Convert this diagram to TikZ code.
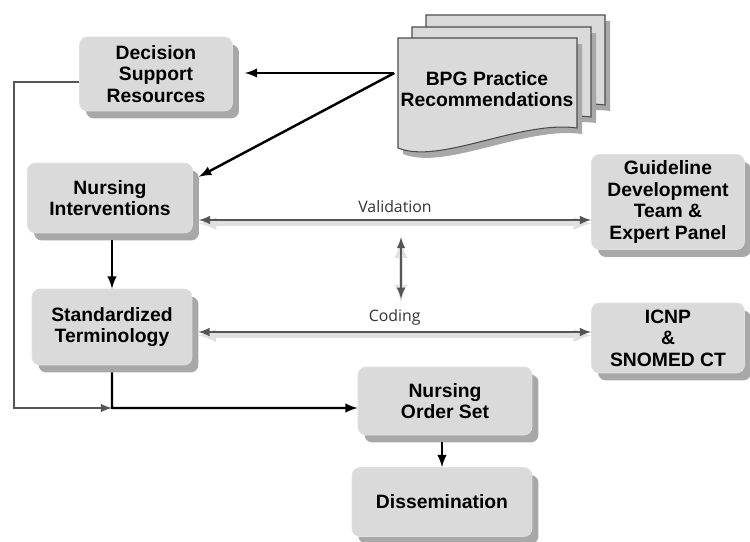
\documentclass[tikz,border=0pt]{standalone}
\usepackage{fontspec}
\setmainfont{Liberation Sans}
\newfontfamily\labelfont{Open Sans}
\usetikzlibrary{shadows}

\definecolor{boxgray}{HTML}{DADADA}
\definecolor{shadegray}{HTML}{A8A8A8}
\definecolor{linegray}{HTML}{555555}

\tikzset{
  box/.style={rounded corners=0.16cm, fill=boxgray, draw=black!12, align=center,
    font=\bfseries\fontsize{11}{12.3}\selectfont,
    drop shadow={shadow xshift=0.13cm, shadow yshift=-0.15cm, fill=shadegray, opacity=1}},
  bline/.style={->, draw=black, line width=1.4pt},
  gline/.style={->, draw=linegray, line width=1.2pt},
  garrow/.style={<->, draw=linegray, line width=1.2pt,
    preaction={draw=black!12, line width=2.4pt, transform canvas={yshift=-2pt}}},
  lbl/.style={font=\labelfont\fontsize{9}{10}\selectfont, text=black!80},
}

\begin{document}
\begin{tikzpicture}[x=0.02cm, y=-0.02cm, >=latex]
    \useasboundingbox (0,0) rectangle (750,541);

    % stacked pages
    \foreach \dx/\dy in {28/-23, 14/-11, 0/0} {
      \fill[shadegray, shift={(\dx+5,\dy+6)}] (398,38) -- (577,38) -- (577,128)
        .. controls (520,120) and (440,165) .. (398,148) -- cycle;
      \draw[fill=boxgray, draw=black!70, line width=0.6pt, shift={(\dx,\dy)}] (398,38) -- (577,38) -- (577,128)
        .. controls (520,120) and (440,165) .. (398,148) -- cycle;
    }
    \node[align=center, font=\bfseries\fontsize{11}{12.3}\selectfont, minimum width=3.58cm] (bpg) at (487,89) {BPG Practice\\Recommendations};

    % boxes
    \node[box, minimum width=3.06cm, minimum height=1.48cm] (dsr) at (156,74) {Decision\\Support\\Resources};
    \node[box, minimum width=3.3cm, minimum height=1.4cm] (ni) at (110,198) {Nursing\\Interventions};
    \node[box, minimum width=3.2cm, minimum height=1.52cm] (st) at (112,327) {Standardized\\Terminology};
    \node[box, minimum width=3.06cm, minimum height=1.9cm] (gdt) at (668,202) {Guideline\\Development\\Team \&\\Expert Panel};
    \node[box, minimum width=3.06cm, minimum height=1.4cm] (icnp) at (668,338) {ICNP\\\&\\SNOMED CT};
    \node[box, minimum width=3.48cm, minimum height=1.36cm] (nos) at (445,401) {Nursing\\Order Set};
    \node[box, minimum width=3.6cm, minimum height=1.38cm] (dis) at (442,502) {Dissemination};

    % arrows from the recommendations
    \coordinate (bpgout) at ([yshift=0.32cm]bpg.west);
    \draw[bline, shorten >=0.24cm] (bpgout) -- (bpgout -| dsr.east);
    \draw[bline, shorten >=0.14cm] (bpgout) -- ([yshift=0.36cm]ni.east);

    % validation and coding
    \coordinate (valL) at ([xshift=0.12cm,yshift=-0.44cm]ni.east);
    \draw[garrow] (valL) -- (valL -| gdt.west) node[lbl, midway, above] (val) {Validation};
    \coordinate (codL) at ([xshift=0.12cm,yshift=-0.1cm]st.east);
    \draw[garrow] (codL) -- (codL -| icnp.west) node[lbl, midway, above] (cod) {Coding};
    \coordinate (vtop) at (401,237);
    \draw[garrow, shorten >=2pt] (vtop) -- (vtop |- cod.north);

    % flow down
    \draw[bline, shorten <=0.14cm] (ni.south -| st.north) -- (st.north);
    \coordinate (loop) at (14,408);
    \coordinate (join) at (112,408);
    \draw[gline] ([yshift=-0.16cm]dsr.west) -| (loop) -- (join);
    \draw[bline, shorten <=0.14cm] (st.south) -- (join) -- ([yshift=-0.14cm]nos.west);
    \draw[bline, shorten <=0.14cm] (nos.south -| dis.north) -- (dis.north);
\end{tikzpicture}
\end{document}
